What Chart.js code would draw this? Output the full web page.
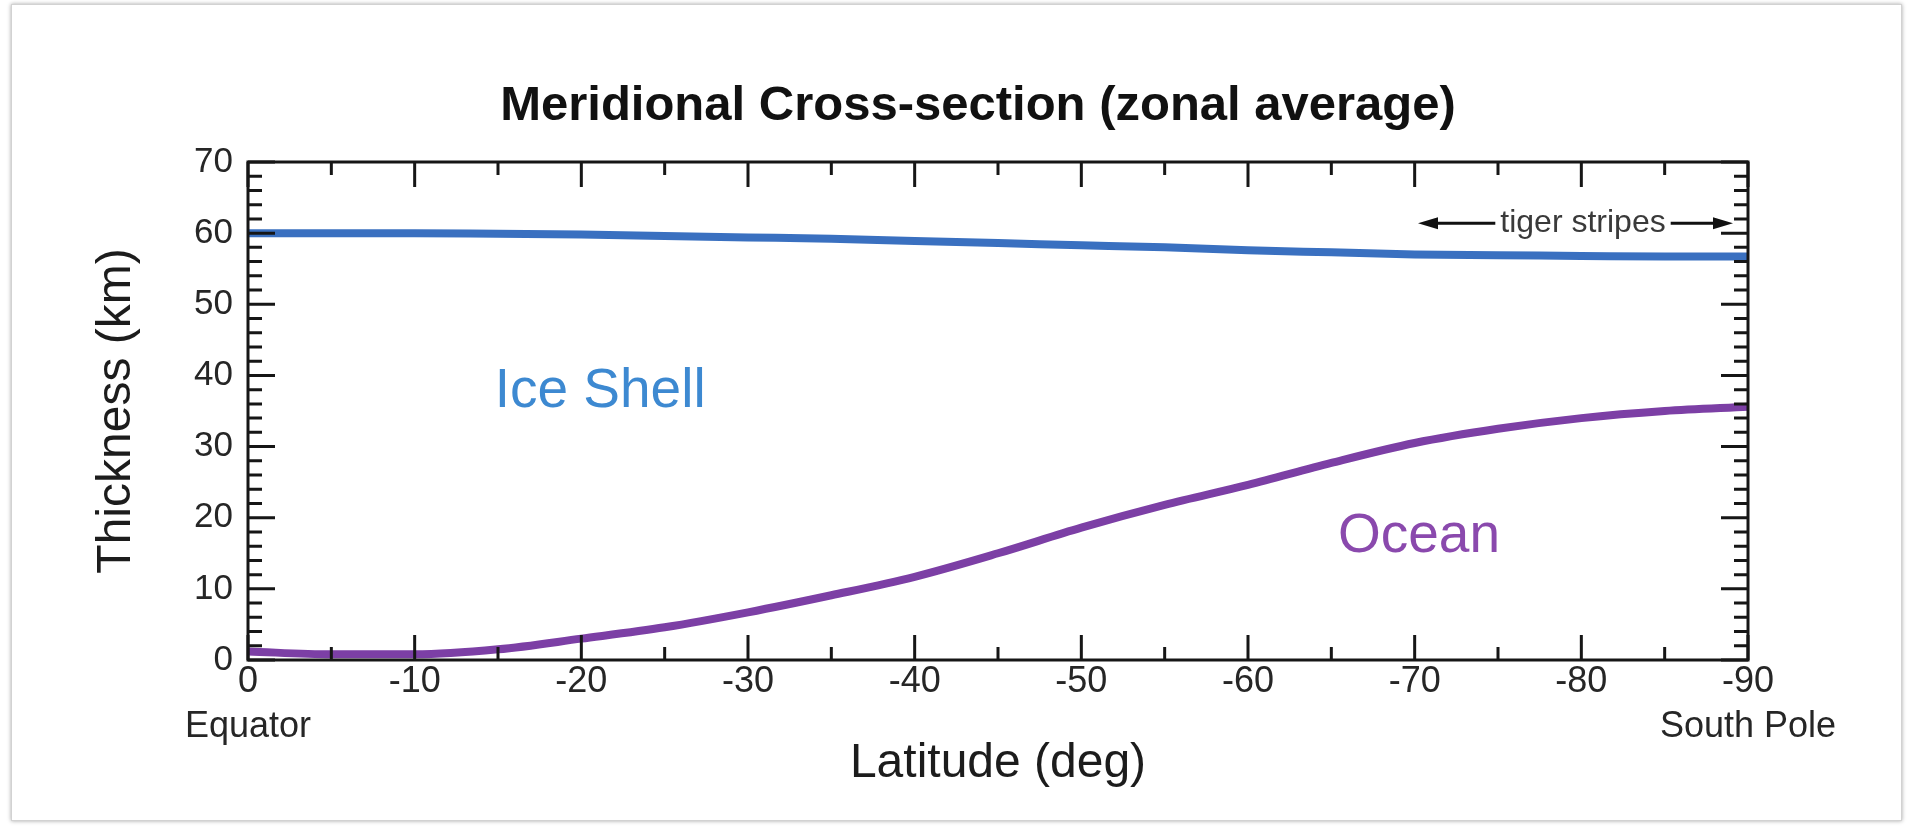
<!DOCTYPE html>
<html>
<head>
<meta charset="utf-8">
<title>Meridional Cross-section (zonal average)</title>
<script src="https://cdn.jsdelivr.net/npm/chart.js@4/dist/chart.umd.min.js"></script>
<style>
  html, body { margin: 0; padding: 0; background: #ffffff; }
  #frame {
    position: absolute; left: 11px; top: 4px; width: 1889px; height: 815px;
    border: 1px solid #d2d2d2; background: #ffffff;
    box-shadow: 0 0 4px rgba(0, 0, 0, 0.35);
  }
  #wrap { position: absolute; left: 0; top: 0; width: 1911px; height: 828px; }
</style>
</head>
<body>
<div id="frame"></div>
<div id="wrap"><canvas id="chart" width="1911" height="828"></canvas></div>
<script>
// Latitude samples (deg), equator to south pole
const latitude = [0, -5, -10, -15, -20, -25, -30, -35, -40, -45, -50, -55, -60, -65, -70, -75, -80, -85, -90];
// Zonal-average thicknesses (km)
const iceShellKm = [60.0, 60.0, 60.0, 59.9, 59.8, 59.6, 59.4, 59.2, 58.9, 58.6, 58.3, 58.0, 57.6, 57.3, 57.0, 56.9, 56.8, 56.7, 56.7];
const oceanKm = [1.2, 0.8, 0.8, 1.5, 3.0, 4.6, 6.7, 9.1, 11.7, 15.0, 18.6, 21.8, 24.6, 27.7, 30.5, 32.5, 34.0, 35.0, 35.6];

// Axis tick labels
const xTickValues = [0, -10, -20, -30, -40, -50, -60, -70, -80, -90];
const xTickLabels = ['0', '-10', '-20', '-30', '-40', '-50', '-60', '-70', '-80', '-90'];
const xEndNames = { '0': 'Equator', '-90': 'South Pole' };
const yTickValues = [0, 10, 20, 30, 40, 50, 60, 70];
const yTickLabels = ['0', '10', '20', '30', '40', '50', '60', '70'];

// Region marked along the top of the plot (deg)
const tigerStripes = { from: -70.2, to: -89.1, level: 61.4, textAt: -80.1 };

const FONT = "'Liberation Sans', Arial, Helvetica, sans-serif";
const ICE_LINE = '#3a70c0';
const OCEAN_LINE = '#7c3fa5';

const toPoints = (xs, ys) => xs.map((v, i) => ({ x: v, y: ys[i] }));

// Boxed frame with inward tick marks on all four sides
const frameTicks = {
  id: 'frameTicks',
  afterDatasetsDraw(chart) {
    const { ctx, chartArea: a, scales: { x, y } } = chart;
    ctx.save();
    ctx.strokeStyle = '#161616';
    ctx.lineWidth = 3;
    ctx.lineCap = 'butt';
    ctx.beginPath();
    for (let v = 0; v >= -90; v -= 5) {
      const px = x.getPixelForValue(v);
      const len = v % 10 === 0 ? 25 : 13;
      ctx.moveTo(px, a.bottom); ctx.lineTo(px, a.bottom - len);
      ctx.moveTo(px, a.top); ctx.lineTo(px, a.top + len);
    }
    for (let v = 0; v <= 70; v += 2) {
      const py = y.getPixelForValue(v);
      const len = v % 10 === 0 ? 27 : 14;
      ctx.moveTo(a.left, py); ctx.lineTo(a.left + len, py);
      ctx.moveTo(a.right, py); ctx.lineTo(a.right - len, py);
    }
    ctx.stroke();
    ctx.strokeRect(a.left, a.top, a.right - a.left, a.bottom - a.top);
    ctx.restore();
  }
};

// Title, curve names and the tiger-stripe span
const annotations = {
  id: 'annotations',
  afterDraw(chart) {
    const { ctx, scales: { x, y } } = chart;
    ctx.save();

    ctx.fillStyle = '#111111';
    ctx.font = `bold 49px ${FONT}`;
    ctx.textAlign = 'center';
    ctx.textBaseline = 'middle';
    ctx.fillText('Meridional Cross-section (zonal average)', 978, 106);

    ctx.textAlign = 'left';
    ctx.textBaseline = 'alphabetic';
    ctx.font = `55px ${FONT}`;
    ctx.fillStyle = '#3d89d1';
    ctx.fillText('Ice Shell', x.getPixelForValue(-14.8), y.getPixelForValue(35.5));
    ctx.fillStyle = '#8a49ad';
    ctx.fillText('Ocean', x.getPixelForValue(-65.4), y.getPixelForValue(15.2));

    const ty = y.getPixelForValue(tigerStripes.level);
    const tx = x.getPixelForValue(tigerStripes.textAt);
    ctx.font = `32px ${FONT}`;
    ctx.fillStyle = '#3a3a3a';
    ctx.textAlign = 'center';
    ctx.textBaseline = 'middle';
    const label = 'tiger stripes';
    ctx.fillText(label, tx, ty);
    const half = ctx.measureText(label).width / 2;
    const x1 = x.getPixelForValue(tigerStripes.from);
    const x2 = x.getPixelForValue(tigerStripes.to);
    ctx.strokeStyle = '#111111';
    ctx.fillStyle = '#111111';
    ctx.lineWidth = 3;
    ctx.beginPath();
    ctx.moveTo(tx - half - 5, ty); ctx.lineTo(x1 + 16, ty);
    ctx.moveTo(tx + half + 5, ty); ctx.lineTo(x2 - 16, ty);
    ctx.stroke();
    ctx.beginPath();
    ctx.moveTo(x1, ty); ctx.lineTo(x1 + 20, ty - 6); ctx.lineTo(x1 + 20, ty + 6); ctx.closePath();
    ctx.moveTo(x2, ty); ctx.lineTo(x2 - 20, ty - 6); ctx.lineTo(x2 - 20, ty + 6); ctx.closePath();
    ctx.fill();
    ctx.restore();
  }
};

new Chart(document.getElementById('chart'), {
  type: 'line',
  data: {
    datasets: [
      {
        label: 'Ice Shell',
        data: toPoints(latitude, iceShellKm),
        borderColor: ICE_LINE,
        borderWidth: 8,
        pointRadius: 0,
        cubicInterpolationMode: 'monotone',
        fill: false
      },
      {
        label: 'Ocean',
        data: toPoints(latitude, oceanKm),
        borderColor: OCEAN_LINE,
        borderWidth: 8,
        pointRadius: 0,
        cubicInterpolationMode: 'monotone',
        fill: false
      }
    ]
  },
  options: {
    responsive: false,
    devicePixelRatio: 1,
    animation: false,
    events: [],
    layout: { padding: { top: 162, right: 163, bottom: 0, left: 0 } },
    plugins: { legend: { display: false }, tooltip: { enabled: false }, title: { display: false } },
    scales: {
      x: {
        type: 'linear',
        min: -90,
        max: 0,
        reverse: true,
        afterFit(scale) { scale.height = 168; },
        afterBuildTicks(scale) { scale.ticks = xTickValues.map(v => ({ value: v })); },
        grid: { display: false, drawTicks: false },
        border: { display: false },
        ticks: {
          color: '#262626',
          font: { family: FONT, size: 36, lineHeight: 1.25 },
          padding: 0,
          maxRotation: 0,
          autoSkip: false,
          callback(value) {
            const i = xTickValues.indexOf(value);
            const txt = i >= 0 ? xTickLabels[i] : '';
            const name = xEndNames[String(value)];
            return name ? [txt, name] : txt;
          }
        },
        title: {
          display: true,
          text: 'Latitude (deg)',
          color: '#1c1c1c',
          font: { family: FONT, size: 48, lineHeight: 1.2 },
          padding: { top: 0, bottom: 35 }
        }
      },
      y: {
        type: 'linear',
        min: 0,
        max: 70,
        afterFit(scale) { scale.width = 248; },
        afterBuildTicks(scale) { scale.ticks = yTickValues.map(v => ({ value: v })); },
        grid: { display: false, drawTicks: false },
        border: { display: false },
        ticks: {
          color: '#262626',
          font: { family: FONT, size: 35 },
          padding: 15,
          callback(value) {
            const i = yTickValues.indexOf(value);
            return i >= 0 ? yTickLabels[i] : '';
          }
        },
        title: {
          display: true,
          text: 'Thickness (km)',
          color: '#1c1c1c',
          font: { family: FONT, size: 48, lineHeight: 1.2 },
          padding: { top: 88, bottom: 0 }
        }
      }
    }
  },
  plugins: [frameTicks, annotations]
});
</script>
</body>
</html>
